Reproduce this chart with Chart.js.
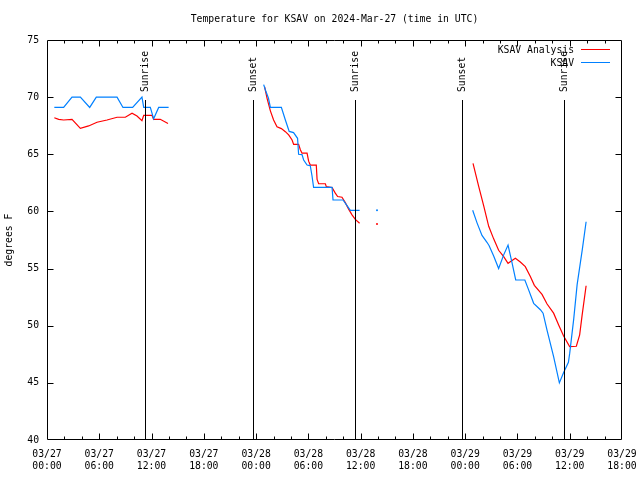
<!DOCTYPE html>
<html>
<head>
<meta charset="utf-8">
<script src="https://cdn.jsdelivr.net/npm/chart.js@4.4.1/dist/chart.umd.min.js"></script>
<style>
  html, body { margin: 0; padding: 0; background: #fff; }
  #wrap { width: 640px; height: 480px; }
</style>
</head>
<body>
<div id="wrap"><canvas id="tempChart" width="640" height="480"></canvas></div>
<script>
// hours since 03/27 00:00 UTC, null temp = gap in the line
const analysisTimes = [0.84, 1.34, 1.91, 2.87, 3.83, 4.78, 5.74, 6.89, 8.04, 8.99, 9.76, 10.33, 10.9, 11.1, 12.06, 12.24, 13.0, 13.89,
  18,
  24.98, 25.26, 25.64, 26.01, 26.4, 26.9, 27.36, 27.74, 28.13, 28.31, 28.88, 29.08, 29.27, 29.85, 30.03, 30.22, 30.91, 31.0, 31.18,
  31.95, 32.06, 32.72, 33.09, 33.36, 33.86, 34.24, 34.62, 35.01, 35.39, 35.88,
  37, 37.88, 43,
  48.9, 49.55, 50.12, 50.7, 51.27, 51.84, 52.42, 52.92, 53.3, 53.76, 54.33, 54.9, 55.48, 55.94, 56.82, 57.4, 58.15, 58.73, 59.3,
  59.99, 60.76, 61.14, 61.42, 61.88];
const analysisTemps = [68.2, 68.05, 68.0, 68.05, 67.27, 67.48, 67.8, 68.0, 68.24, 68.24, 68.6, 68.35, 67.94, 68.4, 68.4, 68.06, 68.06, 67.7,
  null,
  70.9, 69.9, 68.8, 68.0, 67.4, 67.25, 66.98, 66.7, 66.25, 65.87, 65.87, 65.4, 65.1, 65.1, 64.4, 64.06, 64.06, 62.8, 62.42,
  62.42, 62.17, 62.1, 61.6, 61.3, 61.24, 60.77, 60.2, 59.7, 59.3, 58.96,
  null, 58.9, null,
  64.2, 62.2, 60.5, 58.7, 57.6, 56.6, 56.04, 55.46, 55.66, 55.9, 55.58, 55.17, 54.3, 53.53, 52.74, 51.9, 51.1, 50.07, 49.1,
  48.17, 48.2, 49.2, 50.9, 53.5];

const stationTimes = [0.84, 1.91, 2.87, 3.83, 4.9, 5.66, 8.04, 8.72, 9.83, 10.9, 11.1, 11.86, 12.24, 12.82, 13.96,
  18,
  24.87, 25.08, 25.42, 25.64, 26.9, 27.36, 27.8, 28.3, 28.76, 28.88, 29.27, 29.46, 29.85, 30.22, 30.42, 30.6, 32.72, 32.83,
  33.98, 34.44, 34.82, 35.88,
  37, 37.88, 43,
  48.86, 49.36, 49.93, 50.5, 50.75, 51.27, 51.84, 52.42, 52.92, 53.38, 53.8, 54.85, 55.25, 55.86, 56.63, 56.94, 57.4, 58.15,
  58.81, 59.3, 59.85, 60.0, 60.46, 60.85, 61.45, 61.88];
const stationTemps = [69.1, 69.1, 70.0, 70.0, 69.1, 70.0, 70.0, 69.1, 69.1, 70.0, 69.1, 69.1, 68.1, 69.1, 69.1,
  null,
  71.1, 70.6, 69.9, 69.1, 69.1, 68.0, 67.0, 66.9, 66.4, 65.0, 64.97, 64.5, 64.06, 64.0, 63.1, 62.1, 62.1, 61.0,
  61.0, 60.5, 60.1, 60.1,
  null, 60.1, null,
  60.1, 59.0, 57.9, 57.3, 57.0, 56.1, 55.0, 56.2, 57.06, 55.5, 54.0, 54.0, 53.2, 51.96, 51.4, 51.1, 49.6, 47.3,
  45.0, 45.9, 46.8, 47.6, 50.6, 53.6, 56.7, 59.1];

const sunEvents = ['Sunrise', 'Sunset', 'Sunrise', 'Sunset', 'Sunrise'];
const sunTimes = [11.3, 23.62, 35.32, 47.6, 59.3];

const dayLabels = ['03/27', '03/27', '03/27', '03/27', '03/28', '03/28', '03/28', '03/28', '03/29', '03/29', '03/29', '03/29'];
const hourLabels = ['00:00', '06:00', '12:00', '18:00', '00:00', '06:00', '12:00', '18:00', '00:00', '06:00', '12:00', '18:00'];

const FONT = 'DejaVu Sans Mono';
const RED = '#ff0000';
const BLUE = '#0080ff';

function toPoints(times, temps) {
    return times.map((t, i) => ({ x: t, y: temps[i] }));
}

// single points between two gaps get a dot, like gnuplot does
function dotIfAlone(ctx) {
    const d = ctx.dataset.data;
    const i = ctx.dataIndex;
    const prevGap = i === 0 || d[i - 1].y === null;
    const nextGap = i === d.length - 1 || d[i + 1].y === null;
    return prevGap && nextGap ? 1 : 0;
}

const framePlugin = {
    id: 'frame',
    afterDatasetsDraw(chart) {
        const { ctx, chartArea: a, scales } = chart;
        const xs = scales.x, ys = scales.y;
        ctx.save();
        ctx.strokeStyle = '#000';
        ctx.lineWidth = 1;

        // sunrise / sunset markers
        ctx.beginPath();
        sunTimes.forEach(t => {
            const px = Math.round(xs.getPixelForValue(t)) + 0.5;
            ctx.moveTo(px, Math.round(ys.getPixelForValue(69.75)));
            ctx.lineTo(px, a.bottom);
        });
        ctx.stroke();
        ctx.fillStyle = '#000';
        ctx.font = '9.75px "' + FONT + '"';
        ctx.textAlign = 'left';
        ctx.textBaseline = 'middle';
        sunTimes.forEach((t, i) => {
            const px = Math.round(xs.getPixelForValue(t)) + 0.5;
            ctx.save();
            ctx.translate(px, 92);
            ctx.rotate(-Math.PI / 2);
            ctx.fillText(sunEvents[i], 0, 0);
            ctx.restore();
        });

        // box and inward ticks (ends sit on the box itself)
        const L = Math.round(a.left) + 0.5, R = Math.round(a.right) - 0.5;
        const T = Math.round(a.top) + 0.5, B = Math.round(a.bottom) - 0.5;
        ctx.beginPath();
        ctx.rect(L, T, R - L, B - T);
        for (let v = 45; v < 75; v += 5) {
            const py = Math.round(ys.getPixelForValue(v)) + 0.5;
            ctx.moveTo(L, py); ctx.lineTo(L + 6, py);
            ctx.moveTo(R, py); ctx.lineTo(R - 6, py);
        }
        for (let h = 2; h < 66; h += 2) {
            const px = Math.round(xs.getPixelForValue(h)) + 0.5;
            const len = h % 6 === 0 ? 6 : 3;
            ctx.moveTo(px, B); ctx.lineTo(px, B - len);
            ctx.moveTo(px, T); ctx.lineTo(px, T + len);
        }
        ctx.stroke();

        // title
        ctx.textAlign = 'center';
        ctx.fillText('Temperature for KSAV on 2024-Mar-27 (time in UTC)', (a.left + a.right) / 2, 19);

        // legend
        ctx.textAlign = 'right';
        ctx.fillText('KSAV Analysis', 574, 50);
        ctx.fillText('KSAV', 574, 63);
        ctx.lineWidth = 1;
        ctx.strokeStyle = RED;
        ctx.beginPath(); ctx.moveTo(581, 49.5); ctx.lineTo(610, 49.5); ctx.stroke();
        ctx.strokeStyle = BLUE;
        ctx.beginPath(); ctx.moveTo(581, 62.5); ctx.lineTo(610, 62.5); ctx.stroke();
        ctx.restore();
    }
};

new Chart(document.getElementById('tempChart').getContext('2d'), {
    type: 'line',
    data: {
        datasets: [{
            label: 'KSAV',
            data: toPoints(stationTimes, stationTemps),
            borderColor: BLUE,
            backgroundColor: BLUE,
            borderWidth: 1.2,
            pointRadius: dotIfAlone,
            pointBorderWidth: 0,
            tension: 0,
            order: 0
        }, {
            label: 'KSAV Analysis',
            data: toPoints(analysisTimes, analysisTemps),
            borderColor: RED,
            backgroundColor: RED,
            borderWidth: 1.2,
            pointRadius: dotIfAlone,
            pointBorderWidth: 0,
            tension: 0,
            order: 1
        }]
    },
    options: {
        responsive: false,
        animation: false,
        events: [],
        layout: { padding: { top: 40, right: 18, left: 0, bottom: 0 } },
        plugins: {
            legend: { display: false },
            title: { display: false },
            tooltip: { enabled: false }
        },
        scales: {
            x: {
                type: 'linear',
                min: 0,
                max: 66,
                grid: { display: false, drawTicks: false },
                border: { display: false },
                afterFit(scale) {
                    scale.height = 40;
                    scale.paddingLeft = 0;
                    scale.paddingRight = 0;
                },
                ticks: {
                    stepSize: 6,
                    autoSkip: false,
                    maxRotation: 0,
                    padding: 9,
                    color: '#000',
                    font: { family: FONT, size: 9.75, lineHeight: 1.2 },
                    callback: (v) => {
                        const i = Math.round(v / 6);
                        return [dayLabels[i], hourLabels[i]];
                    }
                }
            },
            y: {
                min: 40,
                max: 75,
                grid: { display: false, drawTicks: false },
                border: { display: false },
                afterFit(scale) {
                    scale.width = 47;
                    scale.paddingTop = 0;
                    scale.paddingBottom = 0;
                },
                title: {
                    display: true,
                    text: 'degrees F',
                    color: '#000',
                    padding: { top: 4, bottom: 0 },
                    font: { family: FONT, size: 9.75 }
                },
                ticks: {
                    stepSize: 5,
                    padding: 8,
                    color: '#000',
                    font: { family: FONT, size: 9.75 }
                }
            }
        }
    },
    plugins: [framePlugin]
});
</script>
</body>
</html>
